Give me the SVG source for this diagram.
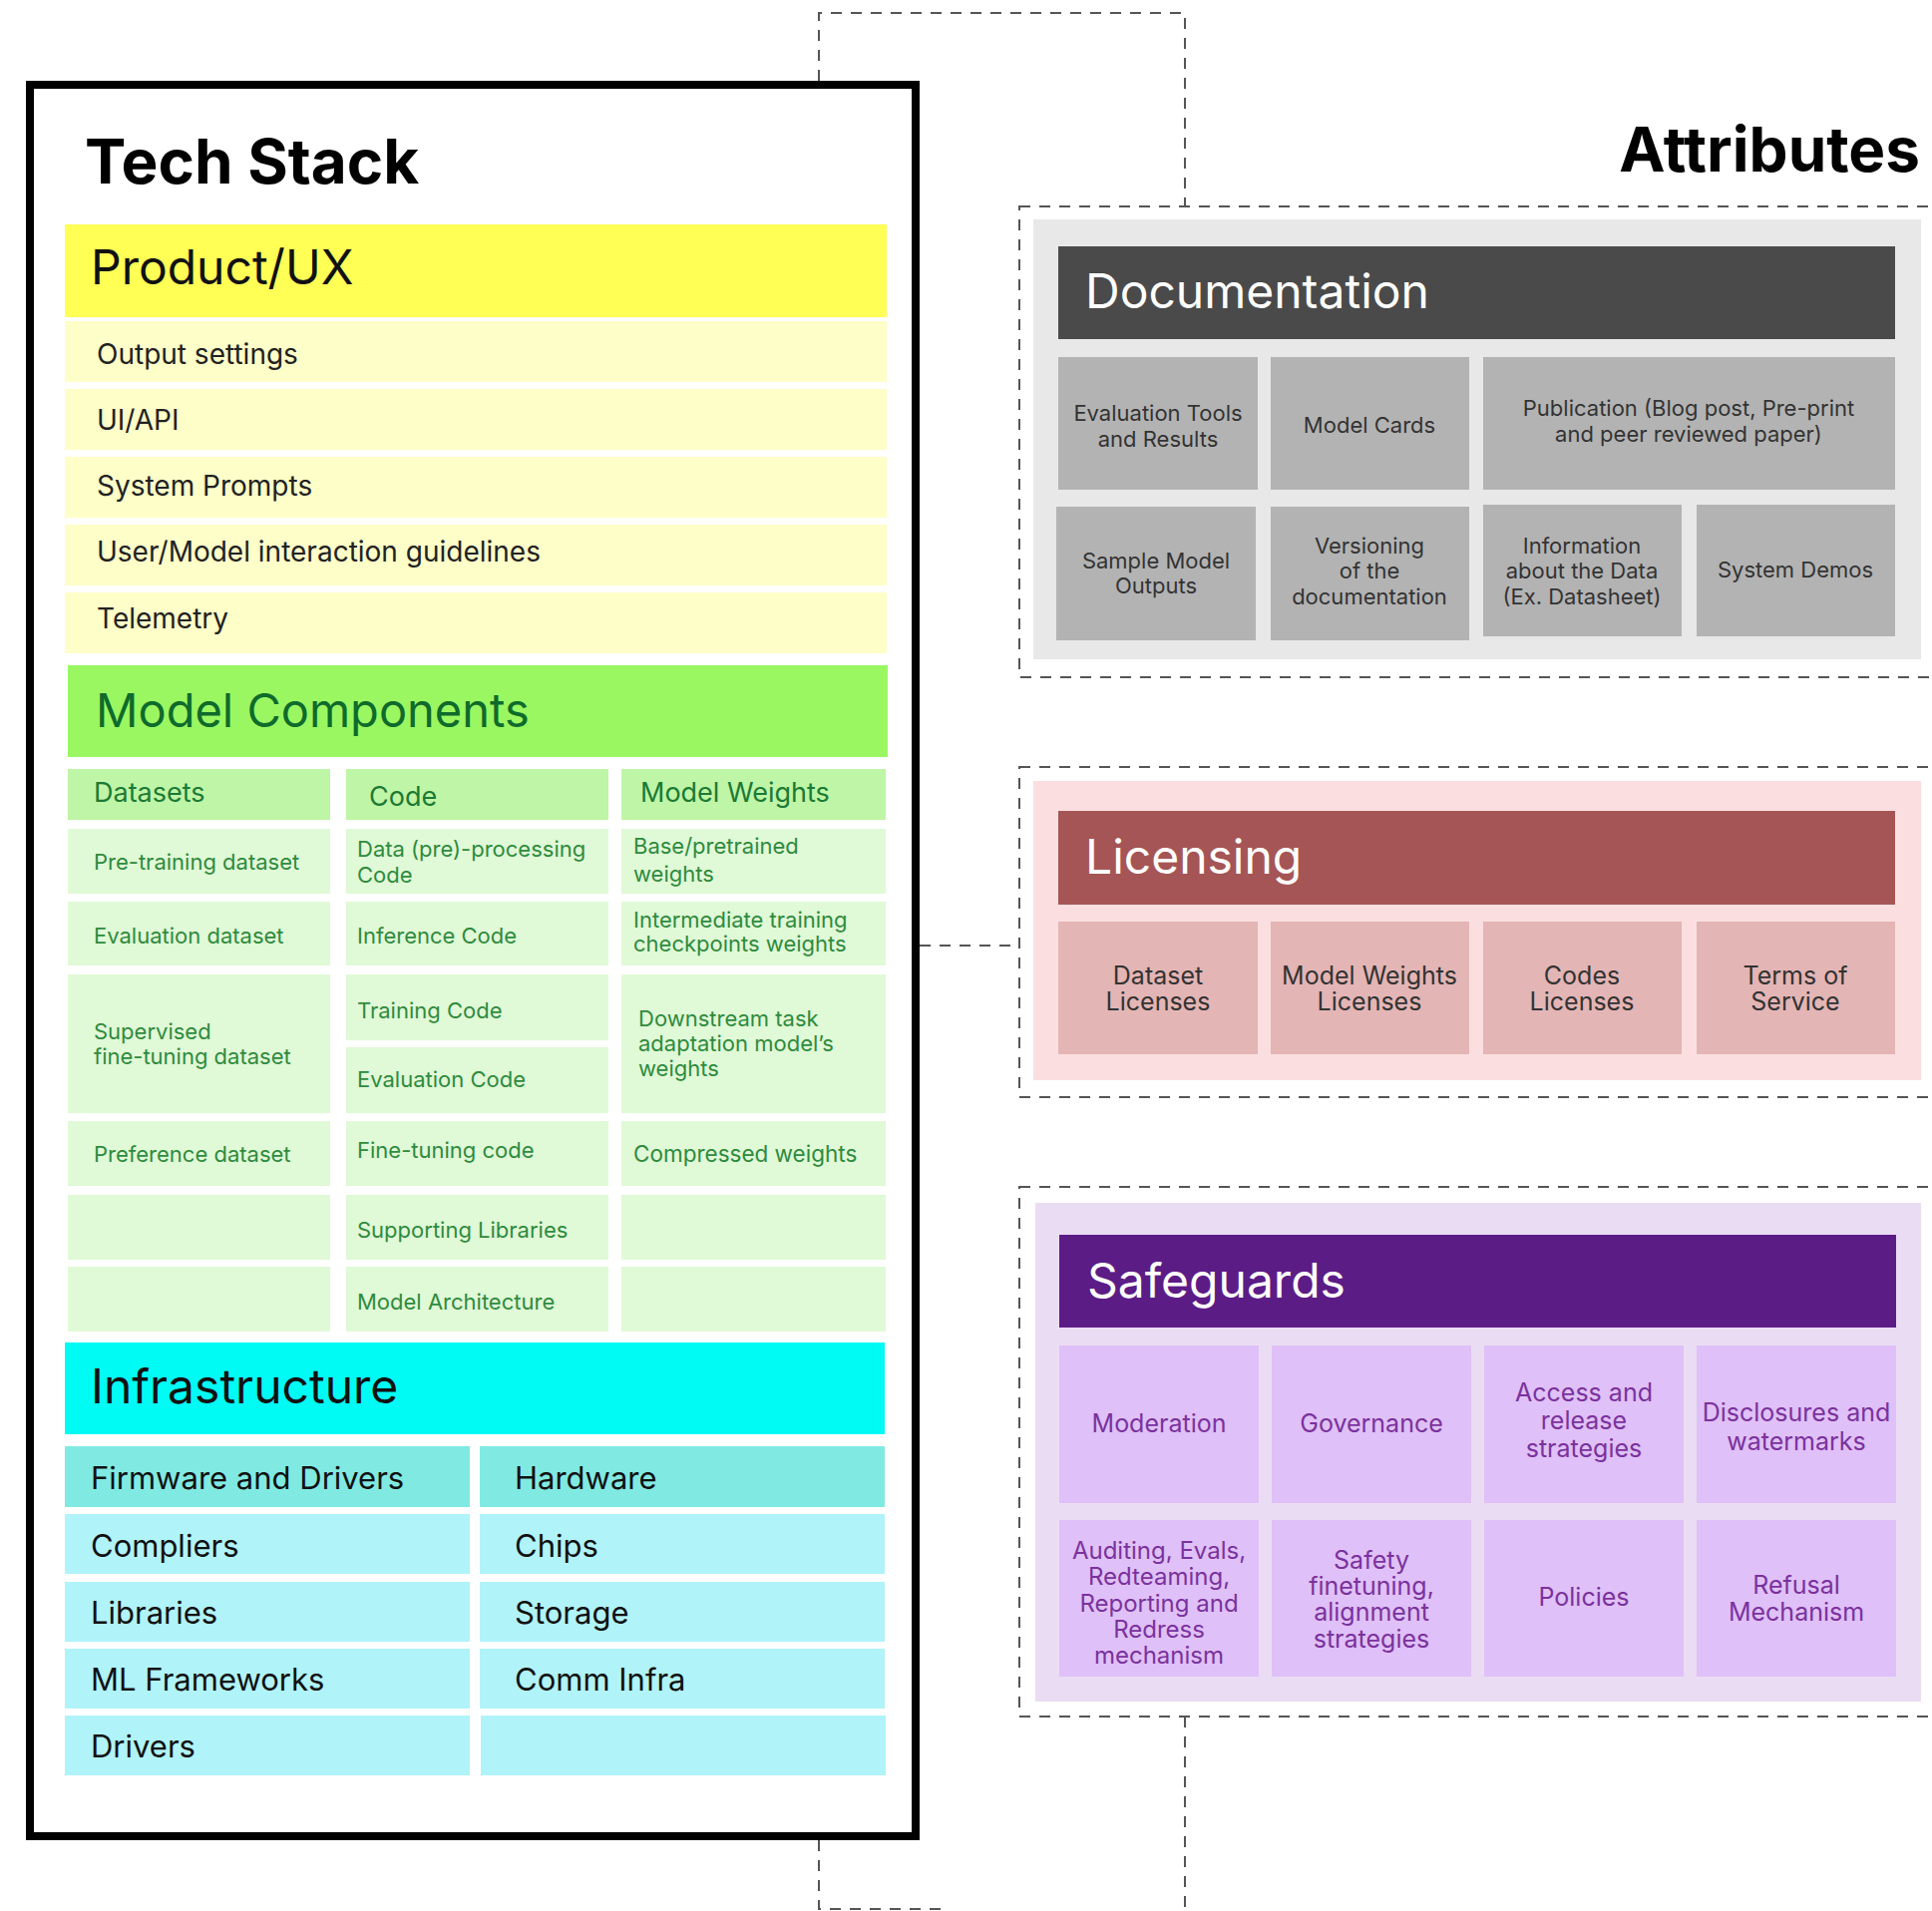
<svg xmlns="http://www.w3.org/2000/svg" width="1937" height="1916" viewBox="0 0 1937 1916">
<style>
text{font-family:Inter,"Liberation Sans","DejaVu Sans",sans-serif}
.title{font-size:62px;font-weight:700;fill:#000}
.h{font-size:48px}
.dash{fill:none;stroke:#555;stroke-width:2;stroke-dasharray:11 9}
.py{fill:#FEFEC8}
.pt{font-size:28px;fill:#222}
.mh{fill:#BFF5A6}
.mc{fill:#E0F9D6}
.mht{font-size:27px;fill:#1B7A35}
.mt{font-size:22px;fill:#2E8B3E}
.ih{fill:#80EAE2}
.ir{fill:#B0F3F9}
.it{font-size:31px;fill:#111}
.dc{fill:#B3B3B3}
.dt{font-size:22px;fill:#333;text-anchor:middle}
.lc{fill:#E4B5B5}
.lt{font-size:25px;fill:#333;text-anchor:middle}
.sc{fill:#E0C0F8}
.st{font-size:25px;fill:#7A329E;text-anchor:middle}
.st2{font-size:24px;fill:#7A329E;text-anchor:middle}
</style>
<rect width="1937" height="1916" fill="#fff"/>
<g id="connectors">
<path class="dash" d="M821,81 V13 H1188 V207"/>
<path class="dash" d="M922,948 H1022"/>
<path class="dash" d="M821,1845 V1914 H950"/>
<path class="dash" d="M1188,1721 V1916"/>
</g>
<g id="tech-stack">
<rect x="30" y="85" width="888" height="1756" fill="#fff" stroke="#000" stroke-width="8"/>
<text class="title" x="85" y="184">Tech Stack</text>
</g>
<g id="product-ux">
<rect x="65" y="225" width="824" height="93" fill="#FFFF55"/>
<text class="h" x="91" y="285" fill="#111">Product/UX</text>
<rect class="py" x="65" y="322" width="824" height="61"/>
<rect class="py" x="65" y="390" width="824" height="61"/>
<rect class="py" x="65" y="458" width="824" height="61"/>
<rect class="py" x="65" y="526" width="824" height="61"/>
<rect class="py" x="65" y="594" width="824" height="61"/>
<text class="pt" x="97" y="365">Output settings</text>
<text class="pt" x="97" y="431">UI/API</text>
<text class="pt" x="97" y="497">System Prompts</text>
<text class="pt" x="97" y="563">User/Model interaction guidelines</text>
<text class="pt" x="97" y="630">Telemetry</text>
</g>
<g id="model-components">
<rect x="68" y="667" width="822" height="92" fill="#9AF762"/>
<text class="h" x="96" y="729" fill="#0E6B2B" style="font-size:47px">Model Components</text>
<rect class="mh" x="68" y="771" width="263" height="51"/>
<rect class="mh" x="347" y="771" width="263" height="51"/>
<rect class="mh" x="623" y="771" width="265" height="51"/>
<text class="mht" x="94" y="804">Datasets</text>
<text class="mht" x="370" y="808">Code</text>
<text class="mht" x="642" y="804">Model Weights</text>
<rect class="mc" x="68" y="831" width="263" height="65"/>
<rect class="mc" x="347" y="831" width="263" height="65"/>
<rect class="mc" x="623" y="831" width="265" height="65"/>
<rect class="mc" x="68" y="904" width="263" height="64"/>
<rect class="mc" x="347" y="904" width="263" height="64"/>
<rect class="mc" x="623" y="904" width="265" height="64"/>
<rect class="mc" x="68" y="977" width="263" height="139"/>
<rect class="mc" x="347" y="977" width="263" height="66"/>
<rect class="mc" x="347" y="1050" width="263" height="66"/>
<rect class="mc" x="623" y="977" width="265" height="139"/>
<rect class="mc" x="68" y="1124" width="263" height="65"/>
<rect class="mc" x="347" y="1124" width="263" height="65"/>
<rect class="mc" x="623" y="1124" width="265" height="65"/>
<rect class="mc" x="68" y="1198" width="263" height="65"/>
<rect class="mc" x="347" y="1198" width="263" height="65"/>
<rect class="mc" x="623" y="1198" width="265" height="65"/>
<rect class="mc" x="68" y="1270" width="263" height="65"/>
<rect class="mc" x="347" y="1270" width="263" height="65"/>
<rect class="mc" x="623" y="1270" width="265" height="65"/>
<text class="mt" x="94" y="872">Pre-training dataset</text>
<text class="mt" x="358" y="859">Data (pre)-processing<tspan x="358" dy="26">Code</tspan></text>
<text class="mt" x="635" y="856">Base/pretrained<tspan x="635" dy="28">weights</tspan></text>
<text class="mt" x="94" y="946">Evaluation dataset</text>
<text class="mt" x="358" y="946">Inference Code</text>
<text class="mt" x="635" y="930">Intermediate training<tspan x="635" dy="24">checkpoints weights</tspan></text>
<text class="mt" x="94" y="1042">Supervised<tspan x="94" dy="25">fine-tuning dataset</tspan></text>
<text class="mt" x="358" y="1021">Training Code</text>
<text class="mt" x="358" y="1090">Evaluation Code</text>
<text class="mt" x="640" y="1029">Downstream task<tspan x="640" dy="25">adaptation model’s</tspan><tspan x="640" dy="25">weights</tspan></text>
<text class="mt" x="94" y="1165">Preference dataset</text>
<text class="mt" x="358" y="1161">Fine-tuning code</text>
<text class="mt" x="635" y="1165" style="font-size:22.5px">Compressed weights</text>
<text class="mt" x="358" y="1241">Supporting Libraries</text>
<text class="mt" x="358" y="1313">Model Architecture</text>
</g>
<g id="infrastructure">
<rect x="65" y="1346" width="822" height="92" fill="#00FBF5"/>
<text class="h" x="91" y="1407" fill="#111">Infrastructure</text>
<rect class="ih" x="65" y="1450" width="406" height="61"/>
<rect class="ih" x="481" y="1450" width="406" height="61"/>
<rect class="ir" x="65" y="1518" width="406" height="60"/>
<rect class="ir" x="481" y="1518" width="406" height="60"/>
<rect class="ir" x="65" y="1586" width="406" height="60"/>
<rect class="ir" x="481" y="1586" width="406" height="60"/>
<rect class="ir" x="65" y="1653" width="406" height="60"/>
<rect class="ir" x="481" y="1653" width="406" height="60"/>
<rect class="ir" x="65" y="1720" width="406" height="60"/>
<rect class="ir" x="482" y="1720" width="406" height="60"/>
<text class="it" x="91" y="1493">Firmware and Drivers</text>
<text class="it" x="516" y="1493">Hardware</text>
<text class="it" x="91" y="1561">Compliers</text>
<text class="it" x="516" y="1561">Chips</text>
<text class="it" x="91" y="1628">Libraries</text>
<text class="it" x="516" y="1628">Storage</text>
<text class="it" x="91" y="1695">ML Frameworks</text>
<text class="it" x="516" y="1695">Comm Infra</text>
<text class="it" x="91" y="1762">Drivers</text>
</g>
<g id="attributes-title">
<text class="title" x="1925" y="172" text-anchor="end">Attributes</text>
</g>
<g id="documentation">
<rect class="dash" x="1022" y="207" width="930" height="472"/>
<rect x="1036" y="220" width="890" height="441" fill="#E8E8E8"/>
<rect x="1061" y="247" width="839" height="93" fill="#4A4A4A"/>
<text class="h" x="1088" y="309" fill="#fff">Documentation</text>
<rect class="dc" x="1061" y="358" width="200" height="133"/>
<rect class="dc" x="1274" y="358" width="199" height="133"/>
<rect class="dc" x="1487" y="358" width="413" height="133"/>
<rect class="dc" x="1059" y="508" width="200" height="134"/>
<rect class="dc" x="1274" y="508" width="199" height="134"/>
<rect class="dc" x="1487" y="506" width="199" height="132"/>
<rect class="dc" x="1701" y="506" width="199" height="132"/>
<text class="dt" x="1161" y="422">Evaluation Tools<tspan x="1161" dy="26">and Results</tspan></text>
<text class="dt" x="1373" y="434">Model Cards</text>
<text class="dt" x="1693" y="417">Publication (Blog post, Pre-print<tspan x="1693" dy="26">and peer reviewed paper)</tspan></text>
<text class="dt" x="1159" y="570">Sample Model<tspan x="1159" dy="25">Outputs</tspan></text>
<text class="dt" x="1373" y="555">Versioning<tspan x="1373" dy="25">of the</tspan><tspan x="1373" dy="26">documentation</tspan></text>
<text class="dt" x="1586" y="555">Information<tspan x="1586" dy="25">about the Data</tspan><tspan x="1586" dy="26">(Ex. Datasheet)</tspan></text>
<text class="dt" x="1800" y="579">System Demos</text>
</g>
<g id="licensing">
<rect class="dash" x="1022" y="769" width="930" height="331"/>
<rect x="1036" y="783" width="890" height="300" fill="#FBDFE0"/>
<rect x="1061" y="813" width="839" height="94" fill="#A55555"/>
<text class="h" x="1088" y="876" fill="#fff">Licensing</text>
<rect class="lc" x="1061" y="924" width="200" height="133"/>
<rect class="lc" x="1274" y="924" width="199" height="133"/>
<rect class="lc" x="1487" y="924" width="199" height="133"/>
<rect class="lc" x="1701" y="924" width="199" height="133"/>
<text class="lt" x="1161" y="987">Dataset<tspan x="1161" dy="26">Licenses</tspan></text>
<text class="lt" x="1373" y="987">Model Weights<tspan x="1373" dy="26">Licenses</tspan></text>
<text class="lt" x="1586" y="987">Codes<tspan x="1586" dy="26">Licenses</tspan></text>
<text class="lt" x="1800" y="987">Terms of<tspan x="1800" dy="26">Service</tspan></text>
</g>
<g id="safeguards">
<rect class="dash" x="1022" y="1190" width="930" height="531"/>
<rect x="1038" y="1206" width="888" height="500" fill="#EADDF3"/>
<rect x="1062" y="1238" width="839" height="93" fill="#5C1C86"/>
<text class="h" x="1090" y="1301" fill="#fff">Safeguards</text>
<rect class="sc" x="1062" y="1349" width="200" height="158"/>
<rect class="sc" x="1275" y="1349" width="200" height="158"/>
<rect class="sc" x="1488" y="1349" width="200" height="158"/>
<rect class="sc" x="1701" y="1349" width="200" height="158"/>
<rect class="sc" x="1062" y="1524" width="200" height="157"/>
<rect class="sc" x="1275" y="1524" width="200" height="157"/>
<rect class="sc" x="1488" y="1524" width="200" height="157"/>
<rect class="sc" x="1701" y="1524" width="200" height="157"/>
<text class="st" x="1162" y="1436">Moderation</text>
<text class="st" x="1375" y="1436">Governance</text>
<text class="st" x="1588" y="1405">Access and<tspan x="1588" dy="28">release</tspan><tspan x="1588" dy="28">strategies</tspan></text>
<text class="st" x="1801" y="1425">Disclosures and<tspan x="1801" dy="29">watermarks</tspan></text>
<text class="st2" x="1162" y="1563">Auditing, Evals,<tspan x="1162" dy="26">Redteaming,</tspan><tspan x="1162" dy="27">Reporting and</tspan><tspan x="1162" dy="26">Redress</tspan><tspan x="1162" dy="26">mechanism</tspan></text>
<text class="st" x="1375" y="1573">Safety<tspan x="1375" dy="26">finetuning,</tspan><tspan x="1375" dy="26">alignment</tspan><tspan x="1375" dy="27">strategies</tspan></text>
<text class="st" x="1588" y="1610">Policies</text>
<text class="st" x="1801" y="1598">Refusal<tspan x="1801" dy="27">Mechanism</tspan></text>
</g>
</svg>
